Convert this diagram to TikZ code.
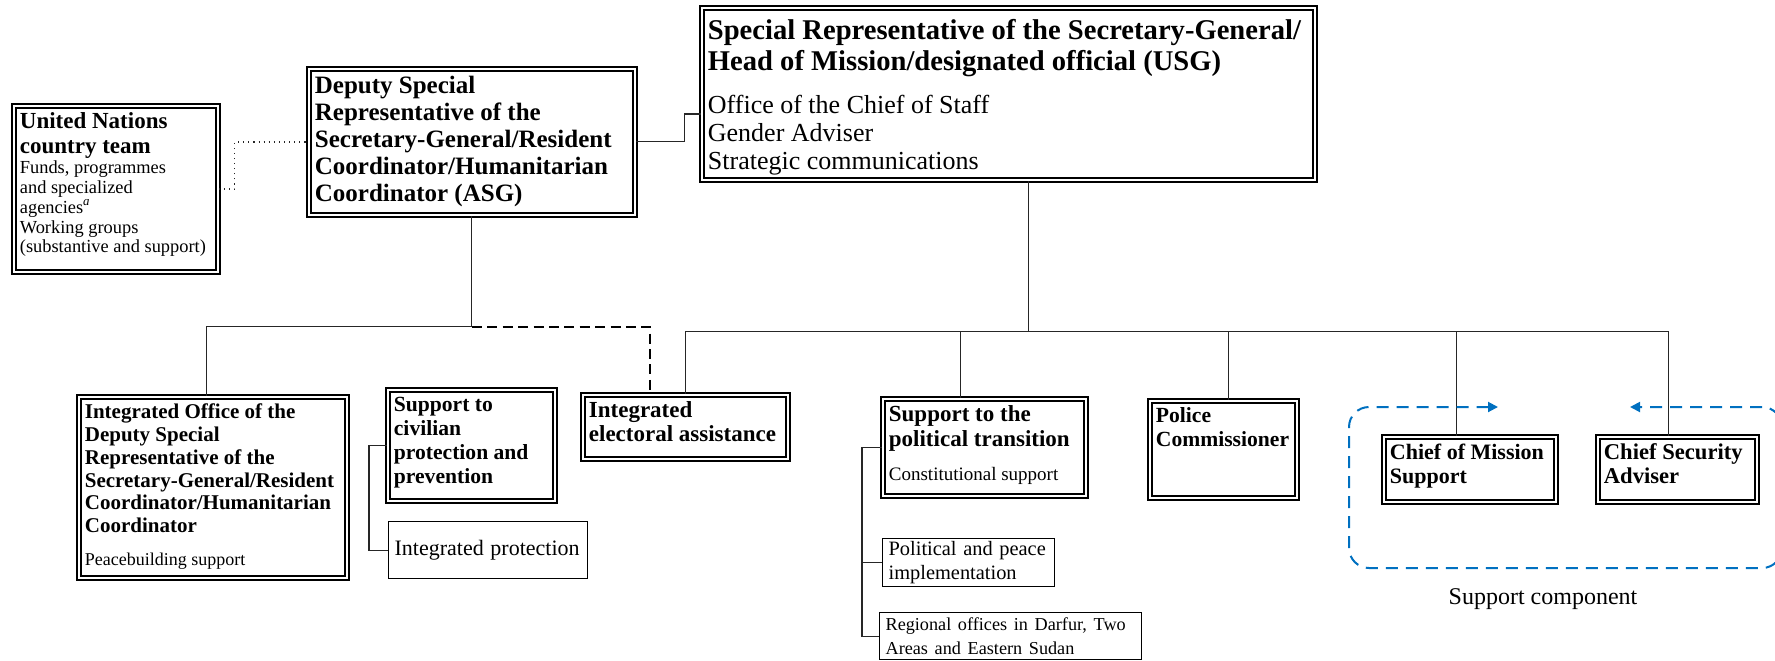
\documentclass[tikz,border=0pt]{standalone}
\usepackage{fontspec}
\setmainfont{Liberation Serif}
\usepackage{tikz}
\usetikzlibrary{arrows.meta}
\usetikzlibrary{positioning}
\definecolor{compblue}{RGB}{0,112,192}
\newcommand{\fs}[2]{\fontsize{#1}{#2}\selectfont}
\newcommand{\inbox}[3]{\parbox[t][#2][t]{#1}{\raggedright #3}}

\begin{document}
\begin{tikzpicture}[x=0.5pt,y=-0.5pt,>={Triangle[length=5pt,width=5pt]},
                    head box/.style={draw,line width=0.9pt,double,double distance=0.9pt,anchor=north west,inner xsep=3pt,inner ysep=3.5pt,font=\bfseries},
                    sub box/.style={draw,line width=0.6pt,anchor=north west,inner xsep=3pt,inner ysep=1pt,align=left},
                    link line/.style={line width=0.55pt,black!85}]
\useasboundingbox (0,0) rectangle (1775,660);

\node[head box] (SRSG) at (701,7) {\inbox{300.5pt}{79pt}{\vspace*{2pt}\fs{14.3}{15.8}Special Representative of the Secretary-General/\\Head of Mission/designated official (USG)\par\vspace{7.5pt}\normalfont\fs{13}{13.9}Office of the Chief of Staff\\Gender Adviser\\Strategic communications}};
\node[head box] (DSRSG) at (308,68) {\inbox{157pt}{66pt}{\fs{12.5}{13.5}Deputy Special\\Representative of the\\Secretary-General/Resident\\Coordinator/Humanitarian\\Coordinator (ASG)}};
\node[head box] (UNCT) at (13,105) {\inbox{96pt}{76pt}{\fs{11.5}{12.5}United Nations\\country team\par\normalfont\fs{9.2}{9.9}Funds, programmes\\and specialized\\agencies\textsuperscript{\itshape a}\\Working groups\\(substantive and support)}};

\node[head box] (IO) at (78,396) {\inbox{128pt}{83.5pt}{\fs{10.5}{11.4}Integrated Office of the\\Deputy Special\\Representative of the\\Secretary-General/Resident\\Coordinator/Humanitarian\\Coordinator\par\vspace{5.5pt}\normalfont\fs{9}{11}Peacebuilding support}};
\node[head box] (CP) at (387,389) {\inbox{77.5pt}{48.5pt}{\fs{10.8}{12}Support to\\civilian\\protection and\\prevention}};
\node[sub box,text width=93.5pt,minimum height=28.5pt] (IP) at (388,521) {\fs{11}{12}Integrated protection};
\node[head box] (EA) at (582,394) {\inbox{96.5pt}{25pt}{\fs{11.5}{12}Integrated\\electoral assistance}};
\node[head box] (PT) at (882,398) {\inbox{95.5pt}{41.5pt}{\fs{11.5}{12.5}Support to the\\political transition\par\vspace{6pt}\normalfont\fs{9.5}{11}Constitutional support}};
\node[sub box,text width=80pt,minimum height=24pt] (PP) at (882,538) {\fs{10.2}{11.3}Political and peace\\implementation};
\node[sub box,text width=125pt,minimum height=23.5pt] (RO) at (879,612) {\fs{9.1}{10.6}Regional offices in Darfur, Two\\Areas and Eastern Sudan};
\node[head box] (PC) at (1149,400) {\inbox{67.5pt}{41.5pt}{\fs{10.8}{12}Police\\Commissioner}};
\node[head box] (MS) at (1383,436) {\inbox{80pt}{25.5pt}{\fs{11}{12}Chief of Mission\\Support}};
\node[head box] (SA) at (1597,436) {\inbox{73.5pt}{25.5pt}{\fs{11.3}{12}Chief Security\\Adviser}};
\node[font=\fs{12}{14}] (SC) at (1543,599) {Support component};

\draw[link line,dotted,line width=0.6pt] (UNCT.east) -- ++(16,0) |- (DSRSG.west);
\draw[link line] (DSRSG.east) -- ++(49,0) |- (SRSG.west |- 0,114);
\draw[link line] (DSRSG.south) -- ++(0,111) coordinate (dbus) -| ([xshift=-3pt]IO.north);
\draw[link line,black,line width=1pt,dash pattern=on 5pt off 2.7pt] (dbus) -| ([xshift=-17.75pt]EA.north);
\draw[link line] ([xshift=10pt]SRSG.south) -- ++(0,151) coordinate (sbus);
\draw[link line] (EA.north) |- (sbus) -| ([xshift=-4.5pt]SA.north);
\foreach \n/\dx in {PT/-11.75pt,PC/2.75pt,MS/-6.5pt}
    \draw[link line] (sbus) -| ([xshift=\dx]\n.north);
\draw[link line] (CP.west) -- ++(-18,0) |- (IP.west);
\draw[link line] (PT.west) -- ++(-20,0) coordinate (pbranch) |- (PP.west);
\draw[link line] (pbranch) |- (RO.west);

\draw[compblue,line width=1pt,dash pattern=on 6pt off 4pt,rounded corners=10pt,<->]
    (1498,407) -- (1349,407) -- (1349,568) -- (1782,568) -- (1782,407) -- (1630,407);
\end{tikzpicture}
\end{document}
